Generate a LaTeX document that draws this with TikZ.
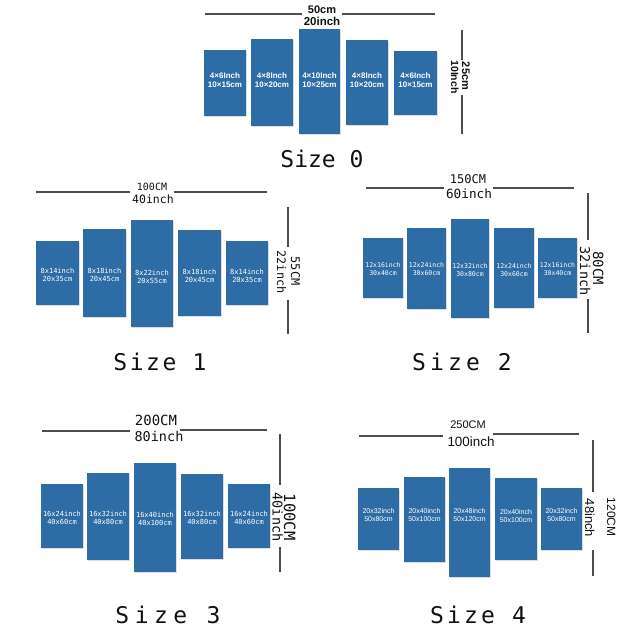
\documentclass[tikz,border=0pt]{standalone}
\usepackage{fontspec}
\setmainfont{Liberation Sans}
\newfontfamily\monof{DejaVu Sans Mono}
\newfontfamily\arf{Liberation Sans}
\usetikzlibrary{shadows}
\definecolor{panelblue}{HTML}{2E6CA5}
\definecolor{dimgray}{HTML}{4D4D4D}
\definecolor{ink}{HTML}{111111}
\newcommand\pnl[7]{%
  \node[panelbox, minimum width={(#4-#2)*1pt}, minimum height={(#5-#3)*1pt}] (#1) at ({(#2+#4)/2},{(#3+#5)/2}) {};
  \node[panelt] (#1t) at ({(#2+#4)/2},#6) {#7};}
\begin{document}
\begin{tikzpicture}[x=1pt,y=-1pt,
  panelbox/.style={rectangle, fill=panelblue, draw=none, inner sep=0pt,
    drop shadow={shadow xshift=1.2pt, shadow yshift=-1.4pt, opacity=0.22, fill=black!60}},
  panelt/.style={text=white, align=center, inner sep=0pt},
  dimline/.style={draw=dimgray, line width=1.4pt},
  dimt/.style={text=ink, inner sep=0pt, anchor=base},
  sizet/.style={text=ink, inner sep=0pt, anchor=base, font=\monof\fontsize{23}{23}\selectfont}]
\path[use as bounding box, fill=white] (0,0) rectangle (640,640);

% ---------------- Size 0 ----------------
\coordinate (a0l) at (205,14); \coordinate (a0m) at (302,14);
\coordinate (a0n) at (342,14); \coordinate (a0r) at (435,14);
\draw[dimline] (a0l) -- (a0m); \draw[dimline] (a0n) -- (a0r);
\node[dimt, font=\arf\bfseries\fontsize{11}{11}\selectfont] (a0cm) at (322,13.5) {50cm};
\node[dimt, font=\arf\bfseries\fontsize{11.5}{11.5}\selectfont] (a0in) at (322,25) {20inch};
\coordinate (v0t) at (462,30); \coordinate (v0m) at (462,60);
\coordinate (v0n) at (462,95); \coordinate (v0b) at (462,134);
\draw[dimline] (v0t) -- (v0m); \draw[dimline] (v0n) -- (v0b);
\node[dimt, rotate=-90, font=\arf\bfseries\fontsize{11}{11}\selectfont] (v0cm) at (462,76) {25cm};
\node[dimt, rotate=-90, font=\arf\bfseries\fontsize{10.5}{10.5}\selectfont] (v0in) at (451,77) {10Inch};
\begin{scope}[panelt/.append style={font=\arf\bfseries\fontsize{8}{9}\selectfont}]
\pnl{p01}{204}{50}{246}{116}{80}{4×6Inch\\10×15cm}
\pnl{p02}{251}{39}{293}{126}{80}{4×8Inch\\10×20cm}
\pnl{p03}{299}{29}{340}{134}{80}{4×10Inch\\10×25cm}
\pnl{p04}{346}{40}{388}{125}{80}{4×8Inch\\10×20cm}
\pnl{p05}{394}{51}{437}{115}{80}{4×6Inch\\10×15cm}
\end{scope}
\node[sizet] (s0) at (322,167) {Size 0};

% ---------------- Size 1 ----------------
\coordinate (a1l) at (36,192); \coordinate (a1m) at (130,192);
\coordinate (a1n) at (174,192); \coordinate (a1r) at (267,192);
\draw[dimline] (a1l) -- (a1m); \draw[dimline] (a1n) -- (a1r);
\node[dimt, font=\monof\fontsize{10}{10}\selectfont] (a1cm) at (152,190) {100CM};
\node[dimt, font=\monof\fontsize{11.5}{11.5}\selectfont] (a1in) at (153,203) {40inch};
\coordinate (v1t) at (288,207); \coordinate (v1m) at (288,247);
\coordinate (v1n) at (288,300); \coordinate (v1b) at (288,334);
\draw[dimline] (v1t) -- (v1m); \draw[dimline] (v1n) -- (v1b);
\node[dimt, rotate=-90, font=\monof\fontsize{12}{12}\selectfont] (v1cm) at (291,271) {55CM};
\node[dimt, rotate=-90, font=\monof\fontsize{11.8}{11.8}\selectfont] (v1in) at (277,272) {22inch};
\begin{scope}[panelt/.append style={font=\monof\fontsize{7}{8.5}\selectfont}]
\pnl{p11}{36}{241}{79}{305}{275}{8x14inch\\20x35cm}
\pnl{p12}{83}{229}{126}{317}{275}{8x18inch\\20x45cm}
\pnl{p13}{131}{220}{173}{327}{277}{8x22inch\\20x55cm}
\pnl{p14}{178}{230}{221}{316}{276}{8x18inch\\20x45cm}
\pnl{p15}{226}{241}{268}{305}{276}{8x14inch\\20x35cm}
\end{scope}
\node[sizet] (s1) at (160,370) {\addfontfeature{LetterSpace=11}Size 1};

% ---------------- Size 2 ----------------
\coordinate (a2l) at (366,188); \coordinate (a2m) at (444,188);
\coordinate (a2n) at (493,188); \coordinate (a2r) at (574,188);
\draw[dimline] (a2l) -- (a2m); \draw[dimline] (a2n) -- (a2r);
\node[dimt, font=\monof\fontsize{12}{12}\selectfont] (a2cm) at (468,183) {150CM};
\node[dimt, font=\monof\fontsize{12.7}{12.7}\selectfont] (a2in) at (469,198) {60inch};
\coordinate (v2t) at (588,193); \coordinate (v2m) at (588,240);
\coordinate (v2n) at (588,299); \coordinate (v2b) at (588,333);
\draw[dimline] (v2t) -- (v2m); \draw[dimline] (v2n) -- (v2b);
\node[dimt, rotate=-90, font=\monof\fontsize{14}{14}\selectfont] (v2cm) at (593,268) {80CM};
\node[dimt, rotate=-90, font=\monof\fontsize{13.5}{13.5}\selectfont] (v2in) at (580,271) {32inch};
\begin{scope}[panelt/.append style={font=\monof\fontsize{6.5}{8}\selectfont}]
\pnl{p21}{363}{238}{403}{298}{269}{12x16inch\\30x40cm}
\pnl{p22}{407}{228}{446}{309}{269}{12x24inch\\30x60cm}
\pnl{p23}{451}{219}{489}{318}{270}{12x32inch\\30x80cm}
\pnl{p24}{494}{228}{534}{308}{270}{12x24inch\\30x60cm}
\pnl{p25}{538}{238}{577}{298}{269}{12x16inch\\30x40cm}
\end{scope}
\node[sizet] (s2) at (462,370) {\addfontfeature{LetterSpace=18}Size 2};

% ---------------- Size 3 ----------------
\coordinate (a3l) at (42,431); \coordinate (a3m) at (130,431);
\coordinate (a3n) at (180,430); \coordinate (a3r) at (267,430);
\draw[dimline] (a3l) -- (a3m); \draw[dimline] (a3n) -- (a3r);
\node[dimt, font=\monof\fontsize{14}{14}\selectfont] (a3cm) at (156,425) {200CM};
\node[dimt, font=\monof\fontsize{13.5}{13.5}\selectfont] (a3in) at (159,441) {80inch};
\coordinate (v3t) at (280,434); \coordinate (v3m) at (280,485);
\coordinate (v3n) at (280,547); \coordinate (v3b) at (280,572);
\draw[dimline] (v3t) -- (v3m); \draw[dimline] (v3n) -- (v3b);
\node[dimt, rotate=-90, font=\monof\fontsize{15.5}{15.5}\selectfont] (v3cm) at (284,517) {100CM};
\node[dimt, rotate=-90, font=\monof\fontsize{13.5}{13.5}\selectfont] (v3in) at (272.5,517) {40inch};
\begin{scope}[panelt/.append style={font=\monof\fontsize{7}{8.5}\selectfont}]
\pnl{p31}{41}{484}{83}{548}{518}{16x24inch\\40x60cm}
\pnl{p32}{87}{473}{129}{560}{518}{16x32inch\\40x80cm}
\pnl{p33}{134}{463}{176}{572}{519}{16x40inch\\40x100cm}
\pnl{p34}{181}{474}{223}{559}{518}{16x32inch\\40x80cm}
\pnl{p35}{228}{484}{270}{548}{518}{16x24inch\\40x60cm}
\end{scope}
\node[sizet] (s3) at (168,623) {\addfontfeature{LetterSpace=24}Size 3};

% ---------------- Size 4 ----------------
\coordinate (a4l) at (359,436); \coordinate (a4m) at (443,436);
\coordinate (a4n) at (493,434); \coordinate (a4r) at (579,434);
\draw[dimline] (a4l) -- (a4m); \draw[dimline] (a4n) -- (a4r);
\node[dimt, font=\arf\fontsize{11}{11}\selectfont] (a4cm) at (468,428) {250CM};
\node[dimt, font=\arf\fontsize{13.4}{13.4}\selectfont] (a4in) at (471,446) {100inch};
\coordinate (v4t) at (593,440); \coordinate (v4m) at (593,492);
\coordinate (v4n) at (593,550); \coordinate (v4b) at (593,576);
\draw[dimline] (v4t) -- (v4m); \draw[dimline] (v4n) -- (v4b);
\node[dimt, rotate=-90, font=\arf\fontsize{12}{12}\selectfont] (v4cm) at (607,517) {120CM};
\node[dimt, rotate=-90, font=\arf\fontsize{13}{13}\selectfont] (v4in) at (585,518) {48inch};
\begin{scope}[panelt/.append style={font=\arf\fontsize{7}{8.5}\selectfont}]
\pnl{p41}{358}{488}{399}{550}{515}{20x32inch\\50x80cm}
\pnl{p42}{404}{477}{445}{562}{515}{20x40inch\\50x100cm}
\pnl{p43}{449}{468}{490}{577}{515}{20x48inch\\50x120cm}
\pnl{p44}{495}{478}{537}{560}{516}{20x40inch\\50x100cm}
\pnl{p45}{541}{488}{582}{550}{515}{20x32inch\\50x80cm}
\end{scope}
\node[sizet] (s4) at (478,623) {\addfontfeature{LetterSpace=14}Size 4};
\end{tikzpicture}
\end{document}
